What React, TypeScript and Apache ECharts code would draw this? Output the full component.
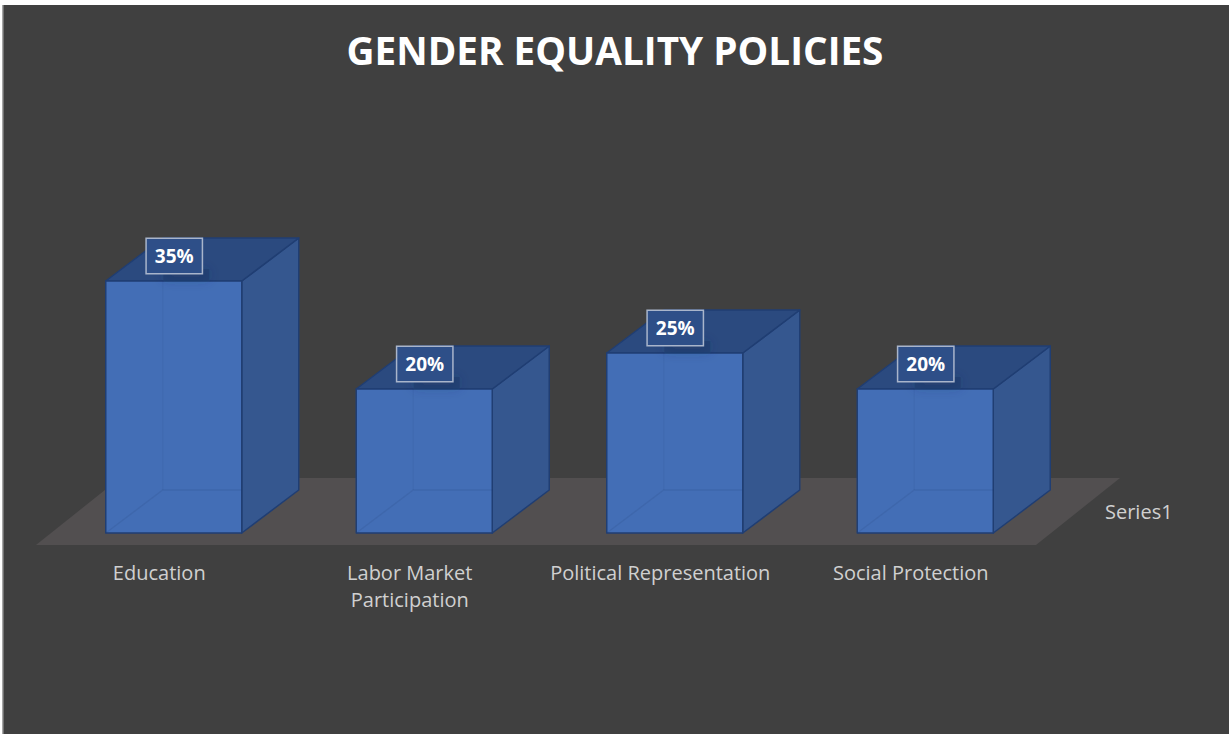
import React, { useEffect, useRef } from "react";
import * as echarts from "echarts";

const categories = ["Education", "Labor Market\nParticipation", "Political Representation", "Social Protection"];
const shares = [35, 20, 25, 20];
const seriesName = "Series1";
const titleText = "GENDER EQUALITY POLICIES";

const DX = 57;
const DY = -43;
const BAR_W = 136;
const OFFSET = 14.5;
const FONT = "'Open Sans', 'Noto Sans', sans-serif";

const poly = (points: number[][], fill: string, stroke = "#203E73", lineWidth = 1.5, z2 = 0) => ({
  type: "polygon",
  shape: { points },
  z2,
  style: { fill, stroke, lineWidth, lineJoin: "round" },
});

const edge = (points: number[][], alpha: number) => ({
  type: "polyline",
  shape: { points },
  z2: 1,
  style: { fill: "none", stroke: `rgba(32,62,115,${alpha})`, lineWidth: 1.5 },
});

function renderBox(params: any, api: any) {
  const i = api.value(0);
  const v = api.value(1);
  const [cx, top] = api.coord([i, v]);
  const [, base] = api.coord([i, 0]);
  const l = cx + OFFSET - BAR_W / 2;
  const r = l + BAR_W;
  const children: any[] = [
    // right and top faces
    poly([[r, top], [r + DX, top + DY], [r + DX, base + DY], [r, base]], "#35578F"),
    poly([[l, top], [l + DX, top + DY], [r + DX, top + DY], [r, top]], "#2B4A7F"),
    // front face
    poly([[l, top], [r, top], [r, base], [l, base]], "#436EB6"),
    // hidden edges, faintly visible through the front face
    edge([[l, base], [l + DX, base + DY], [r, base + DY]], 0.14),
    edge([[l + DX, top], [l + DX, base + DY]], 0.07),
    // label shadow across the top edge
    {
      type: "rect",
      shape: { x: cx + 4, y: top - 12, width: 46, height: 11 },
      z2: 1,
      style: { fill: "rgba(31,56,100,0.4)", shadowBlur: 12, shadowColor: "rgba(31,56,100,0.6)" },
    },
    {
      type: "text",
      x: cx + OFFSET + 0.5,
      y: top - 25,
      z2: 2,
      style: {
        text: `${v}%`,
        fill: "#FFFFFF",
        font: `bold 19px ${FONT}`,
        align: "center",
        verticalAlign: "middle",
        backgroundColor: "#2E4F88",
        borderColor: "#A9B5CB",
        borderWidth: 1.5,
        padding: [8, 8, 7, 8],
      },
    },
  ];
  return { type: "group", children };
}

export default function App() {
  const ref = useRef<HTMLDivElement>(null);
  useEffect(() => {
    document.body.style.margin = "0";
    const chart = echarts.init(ref.current!, undefined, { renderer: "svg" });
    chart.setOption({
      animation: false,
      backgroundColor: "#FFFFFF",
      title: {
        text: titleText,
        left: 610,
        top: 25,
        textAlign: "center",
        textStyle: { color: "#FFFFFF", fontFamily: FONT, fontWeight: "bold", fontSize: 38.7 },
      },
      grid: { left: 34, width: 1002, top: 173, height: 360 },
      xAxis: {
        type: "category",
        data: categories,
        axisLine: { show: false },
        axisTick: { show: false },
        axisLabel: {
          interval: 0,
          margin: 26,
          color: "#D0D0D0",
          fontFamily: FONT,
          fontSize: 20,
          lineHeight: 27,
        },
      },
      yAxis: { type: "value", min: 0, max: 50, show: false },
      graphic: [
        { type: "rect", z: 0, shape: { x: 3, y: 5, width: 1226, height: 729 }, style: { fill: "#404040" } },
        { type: "rect", z: 0, shape: { x: 2, y: 5, width: 1.5, height: 729 }, style: { fill: "#A6A6A6" } },
        {
          type: "polygon",
          z: 1,
          shape: { points: [[36, 545], [1036, 545], [1120, 478], [120, 478]] },
          style: { fill: "#524F50" },
        },
        {
          type: "text",
          z: 1,
          x: 1105,
          y: 511,
          style: { text: seriesName, fill: "#D0D0D0", font: `20px ${FONT}`, verticalAlign: "middle" },
        },
      ],
      series: [
        {
          type: "custom",
          name: seriesName,
          z: 5,
          clip: false,
          data: shares.map((v, i) => [i, v]),
          encode: { x: 0, y: 1 },
          renderItem: renderBox,
        },
      ],
    });
    return () => chart.dispose();
  }, []);
  return <div ref={ref} style={{ width: 1229, height: 734 }} />;
}
